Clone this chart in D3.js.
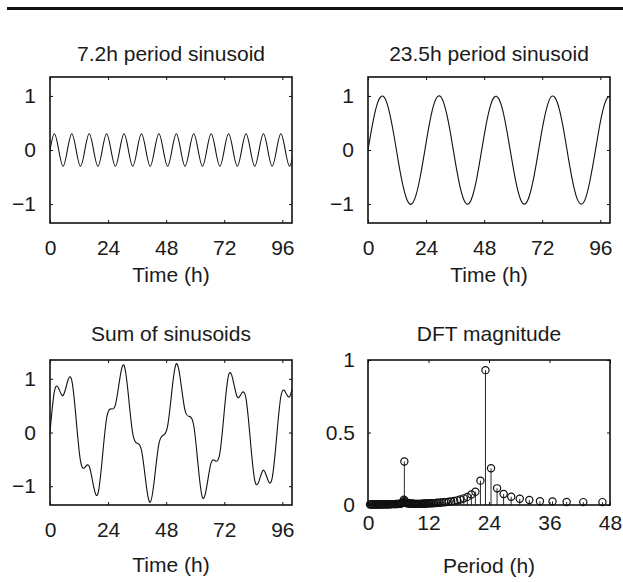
<!DOCTYPE html>
<html>
<head>
<meta charset="utf-8">
<script src="https://cdn.jsdelivr.net/npm/d3@7"></script>
<style>
  body { margin: 0; background: #fff; }
  svg text { font-family: "Liberation Sans", Arial, Helvetica, sans-serif; fill: #1a1a1a; }
</style>
</head>
<body>
<svg id="fig" width="623" height="582"></svg>
<script>
// sample times (h) read along the time axis
const timeH = [0, 1.8, 3.6, 5.4, 7.2, 9, 10.8, 12.6, 14.4, 16.2, 18, 19.8, 21.6, 23.4, 25.2, 27, 28.8,
  30.6, 32.4, 34.2, 36, 37.8, 39.6, 41.4, 43.2, 45, 46.8, 48.6, 50.4, 52.2, 54, 55.8, 57.6, 59.4, 61.2,
  63, 64.8, 66.6, 68.4, 70.2, 72, 73.8, 75.6, 77.4, 79.2, 81, 82.8, 84.6, 86.4, 88.2, 90, 91.8, 93.6,
  95.4, 97.2, 99, 100.8];

// 7.2h sinusoid
const wave72 = [0, 0.3, 0, -0.3, 0, 0.3, 0, -0.3, 0, 0.3, 0, -0.3, 0, 0.3, 0, -0.3, 0, 0.3, 0, -0.3,
  0, 0.3, 0, -0.3, 0, 0.3, 0, -0.3, 0, 0.3, 0, -0.3, 0, 0.3, 0, -0.3, 0, 0.3, 0, -0.3, 0, 0.3, 0, -0.3,
  0, 0.3, 0, -0.3, 0, 0.3, 0, -0.3, 0, 0.3, 0, -0.3, 0];

// 23.5h sinusoid
const wave235 = [0, 0.46, 0.82, 0.99, 0.94, 0.67, 0.25, -0.23, -0.65, -0.93, -1.00, -0.84, -0.49, -0.03,
  0.44, 0.81, 0.99, 0.95, 0.69, 0.28, -0.20, -0.63, -0.92, -1.00, -0.85, -0.51, -0.05, 0.42, 0.79, 0.98,
  0.95, 0.71, 0.30, -0.17, -0.61, -0.91, -1.00, -0.86, -0.53, -0.08, 0.39, 0.77, 0.98, 0.96, 0.73, 0.33,
  -0.15, -0.59, -0.90, -1.00, -0.88, -0.55, -0.11, 0.37, 0.76, 0.97, 0.97];

// sum of the two
const waveSum = [0, 0.76, 0.82, 0.69, 0.94, 0.97, 0.25, -0.53, -0.65, -0.63, -1.00, -1.14, -0.49, 0.27,
  0.44, 0.51, 0.99, 1.25, 0.69, -0.02, -0.20, -0.33, -0.92, -1.30, -0.85, -0.21, -0.05, 0.12, 0.79, 1.28,
  0.95, 0.41, 0.30, 0.13, -0.61, -1.21, -1.00, -0.56, -0.53, -0.38, 0.39, 1.07, 0.98, 0.66, 0.73, 0.63,
  -0.15, -0.89, -0.90, -0.70, -0.88, -0.85, -0.11, 0.67, 0.76, 0.67, 0.97];

// DFT stems: period (h) and magnitude
const dftPeriod = [46.5, 42.7, 39.4, 36.6, 34.1, 32.0, 30.1, 28.4, 26.9, 25.6, 24.4, 23.3, 22.3, 21.3,
  20.5, 19.7, 19.0, 18.3, 17.7, 17.1, 16.5, 16.0, 15.5, 15.1, 14.6, 14.2, 13.8, 13.5, 13.1, 12.8, 12.5,
  12.2, 11.9, 11.6, 11.4, 11.1, 10.9, 10.7, 10.4, 10.2, 10.0,
  9.8, 9.6, 9.4, 9.2, 9.0, 8.8, 8.6, 8.4, 8.2, 8.0, 7.8, 7.6, 7.4,
  7.31, 7.21, 7.11,
  7.0, 6.8, 6.6, 6.4, 6.2, 6.0, 5.8, 5.6, 5.4, 5.2, 5.0, 4.8, 4.6, 4.4, 4.2, 4.0, 3.8, 3.6, 3.4, 3.2,
  3.0, 2.8, 2.6, 2.4, 2.2, 2.0, 1.8, 1.6, 1.4, 1.2, 1.0, 0.8, 0.6, 0.4];
const dftMag = [0.02, 0.02, 0.021, 0.025, 0.026, 0.034, 0.043, 0.057, 0.076, 0.115, 0.253, 0.93, 0.168, 0.092,
  0.072, 0.056, 0.046, 0.038, 0.032, 0.028, 0.025, 0.022, 0.02, 0.019, 0.017, 0.016, 0.015, 0.014, 0.013,
  0.012, 0.012, 0.011, 0.011, 0.010, 0.010, 0.009, 0.009, 0.009, 0.008, 0.008, 0.008,
  0.008, 0.008, 0.008, 0.008, 0.009, 0.009, 0.009, 0.010, 0.010, 0.011, 0.012, 0.014, 0.018,
  0.03, 0.30, 0.036,
  0.02, 0.013, 0.011, 0.009, 0.008, 0.008, 0.007, 0.007, 0.006, 0.006, 0.006, 0.006, 0.006, 0.005, 0.005,
  0.005, 0.005, 0.005, 0.005, 0.005, 0.005, 0.005, 0.004, 0.004, 0.004, 0.004, 0.004, 0.004, 0.004, 0.004,
  0.004, 0.004, 0.004, 0.004];

const timeTicks = [0, 24, 48, 72, 96];
const periodTicks = [0, 12, 24, 36, 48];
const waveTicks = [-1, 0, 1];
const magTicks = [0, 0.5, 1];

const FS = 21;
const ink = "#111";
const svg = d3.select("#fig");

// rule across the top of the figure
svg.append("line")
  .attr("x1", 7).attr("x2", 623).attr("y1", 8.5).attr("y2", 8.5)
  .attr("stroke", ink).attr("stroke-width", 3);

function panel(o) {
  const w = o.w, h = o.h;
  const g = svg.append("g").attr("transform", `translate(${o.left},${o.top})`);

  const x = d3.scaleLinear().domain(o.xDomain).range([0, w]);
  const y = d3.scaleLinear().domain(o.yDomain).range([h, 0]);

  g.append("clipPath").attr("id", o.id + "-clip")
    .append("rect").attr("width", w).attr("height", h);

  const fmt = d3.format("~g");

  // xTickBase is the page y of the tick label baseline
  const bottom = g.append("g").attr("transform", `translate(0,${h})`)
    .call(d3.axisBottom(x).tickValues(o.xTicks).tickSizeInner(-3).tickSizeOuter(0)
      .tickPadding(o.xTickBase - o.top - h - 0.71 * FS).tickFormat(fmt));
  const top = g.append("g")
    .call(d3.axisTop(x).tickValues(o.xTicks).tickSizeInner(-3).tickSizeOuter(0).tickFormat(""));
  const left = g.append("g")
    .call(d3.axisLeft(y).tickValues(o.yTicks).tickSizeInner(-3).tickSizeOuter(0)
      .tickPadding(o.yPad).tickFormat(fmt));
  const right = g.append("g").attr("transform", `translate(${w},0)`)
    .call(d3.axisRight(y).tickValues(o.yTicks).tickSizeInner(-3).tickSizeOuter(0).tickFormat(""));

  [bottom, top, left, right].forEach(a => {
    a.select(".domain").remove();
    a.selectAll("line").attr("stroke", ink).attr("stroke-width", 1);
    a.selectAll("text").attr("font-size", FS).attr("font-family", null).attr("fill", "#1a1a1a");
  });

  g.append("rect").attr("width", w).attr("height", h)
    .attr("fill", "none").attr("stroke", ink).attr("stroke-width", 1.6);

  g.append("text").attr("x", w / 2).attr("y", o.titleBase - o.top)
    .attr("text-anchor", "middle").attr("font-size", FS).text(o.title);
  g.append("text").attr("x", w / 2).attr("y", o.labelBase - o.top)
    .attr("text-anchor", "middle").attr("font-size", FS).text(o.xlabel);

  return { g, x, y };
}

function drawWave(p, vals, id) {
  const line = d3.line()
    .x((d, i) => p.x(timeH[i]))
    .y(d => p.y(d))
    .curve(d3.curveNatural);
  p.g.append("path")
    .datum(vals)
    .attr("clip-path", `url(#${id}-clip)`)
    .attr("fill", "none")
    .attr("stroke", ink)
    .attr("stroke-width", 1.1)
    .attr("d", line);
}

const base = { w: 242, h: 146, xDomain: [0, 100], xTicks: timeTicks, yDomain: [-1.35, 1.35], yTicks: waveTicks, yPad: 14 };

const p1 = panel(Object.assign({}, base, { id: "p1", left: 50, top: 77, title: "7.2h period sinusoid",
  titleBase: 61, xlabel: "Time (h)", labelBase: 282, xTickBase: 255 }));
drawWave(p1, wave72, "p1");

const p2 = panel(Object.assign({}, base, { id: "p2", left: 368, top: 77, title: "23.5h period sinusoid",
  titleBase: 61, xlabel: "Time (h)", labelBase: 282, xTickBase: 255 }));
drawWave(p2, wave235, "p2");

const p3 = panel(Object.assign({}, base, { id: "p3", left: 50, top: 360, h: 145, title: "Sum of sinusoids",
  titleBase: 341, xlabel: "Time (h)", labelBase: 572, xTickBase: 537 }));
drawWave(p3, waveSum, "p3");

const p4 = panel({ id: "p4", left: 368, top: 360, w: 242, h: 145, xDomain: [0, 48], xTicks: periodTicks,
  yDomain: [0, 1], yTicks: magTicks, yPad: 13, title: "DFT magnitude", titleBase: 341,
  xlabel: "Period (h)", labelBase: 573, xTickBase: 530 });

// stems with open circle markers
const stems = dftPeriod.map((pd, i) => ({ pd, m: dftMag[i] }));
p4.g.append("g").selectAll("line").data(stems).join("line")
  .attr("x1", d => p4.x(d.pd)).attr("x2", d => p4.x(d.pd))
  .attr("y1", p4.y(0)).attr("y2", d => p4.y(d.m))
  .attr("stroke", ink).attr("stroke-width", 0.9);
p4.g.append("g").selectAll("circle").data(stems).join("circle")
  .attr("cx", d => p4.x(d.pd)).attr("cy", d => p4.y(d.m))
  .attr("r", 3.6)
  .attr("fill", "none").attr("stroke", ink).attr("stroke-width", 1.2);
</script>
</body>
</html>
